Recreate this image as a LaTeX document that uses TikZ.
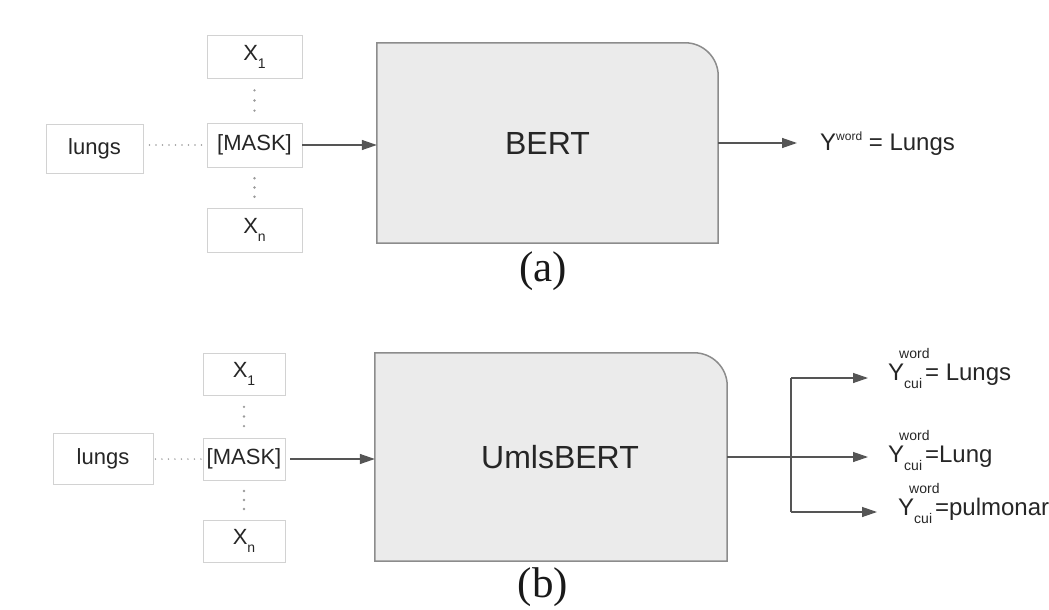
\documentclass[tikz,border=0pt]{standalone}
\usepackage{fontspec}
\setmainfont{Liberation Sans}
\newfontfamily\capfont{Liberation Serif}
\usetikzlibrary{arrows.meta,calc,backgrounds}
\definecolor{boxline}{HTML}{D2D2D2}
\definecolor{arrowc}{HTML}{555555}
\definecolor{bigline}{HTML}{8C8C8C}
\definecolor{bigfill}{HTML}{EBEBEB}
\definecolor{dotc}{HTML}{9A9A9A}
\newcommand\xsub[1]{X\raisebox{-8pt}{\fontsize{14}{14}\selectfont #1}}
\newcommand\ycw{Y\rlap{\hspace{-5pt}\raisebox{22pt}{\fontsize{14}{14}\selectfont word}}\raisebox{-8pt}{\fontsize{14}{14}\selectfont cui}}
\begin{document}
\begin{tikzpicture}[x=1pt,y=-1pt,
  tok/.style={draw=boxline, line width=0.9pt, fill=white, inner sep=0pt, font=\fontsize{22}{26}\selectfont, text=black!85},
  model/.style={inner sep=0pt, font=\fontsize{32}{38}\selectfont, text=black!85},
  bigbox/.style={draw=bigline, fill=bigfill, line width=1.5pt},
  arr/.style={draw=arrowc, line width=1.3pt, -{Triangle[length=15pt,width=10pt]}},
  plain/.style={draw=arrowc, line width=1.3pt},
  dotline/.style={draw=dotc, line width=1.6pt, line cap=round, dash pattern=on 0pt off 6.5pt},
  outlbl/.style={anchor=base west, inner sep=0pt, font=\fontsize{24}{28}\selectfont, text=black!85},
  caplbl/.style={font=\capfont\fontsize{43}{48}\selectfont, inner sep=0pt, text=black!90}
]
\path[use as bounding box] (0,0) rectangle (1049,610);
% ---------- panel (a) ----------
\node[tok, minimum width=95pt, minimum height=43pt] (x1a) at (254.5,56.5) {\xsub{1}};
\node[tok, minimum width=95pt, minimum height=44pt] (maska) at (254.5,145) {[MASK]};
\node[tok, minimum width=95pt, minimum height=44pt] (xna) at (254.5,230) {\xsub{n}};
\node[tok, minimum width=97pt, minimum height=49pt] (lungsa) at (94.5,148.5) {lungs};
\node[model, minimum width=341pt, minimum height=200pt] (bert) at (547.5,143) {BERT};
\begin{scope}[on background layer]
\draw[bigbox] (bert.south west) -- (bert.north west) -- ([xshift=-33pt]bert.north east)
  .. controls ([xshift=-14.8pt]bert.north east) and ([yshift=-14.8pt]bert.north east) .. ([yshift=-33pt]bert.north east)
  -- (bert.south east) -- cycle;
\end{scope}
\draw[dotline, shorten <=6pt] (lungsa.east |- maska.west) -- (maska.west);
\foreach \f in {0.27,0.5,0.73}{
  \fill[dotc] ($(x1a.south)!\f!(maska.north)$) circle (1.3pt);
  \fill[dotc] ($(maska.south)!\f!(xna.north)$) circle (1.3pt);
}
\draw[arr] (maska.east) -- (maska.east -| bert.west);
\coordinate (outa) at (797,143);
\draw[arr] (bert.east) -- (outa);
\node[outlbl] (ya) at (820,150) {Y\raisebox{10pt}{\fontsize{12}{12}\selectfont word} = Lungs};
\node[caplbl] (capa) at (543,271) {(a)};
% ---------- panel (b) ----------
\node[tok, minimum width=82pt, minimum height=42pt] (x1b) at (244,374) {\xsub{1}};
\node[tok, minimum width=82pt, minimum height=42pt] (maskb) at (244,459) {[MASK]};
\node[tok, minimum width=82pt, minimum height=42pt] (xnb) at (244,541) {\xsub{n}};
\node[tok, minimum width=100pt, minimum height=51pt] (lungsb) at (103,458.5) {lungs};
\node[model, minimum width=352pt, minimum height=208pt] (ub) at (551,457) {\hspace*{18pt}UmlsBERT};
\begin{scope}[on background layer]
\draw[bigbox] (ub.south west) -- (ub.north west) -- ([xshift=-33pt]ub.north east)
  .. controls ([xshift=-14.8pt]ub.north east) and ([yshift=-14.8pt]ub.north east) .. ([yshift=-33pt]ub.north east)
  -- (ub.south east) -- cycle;
\end{scope}
\draw[dotline, shorten <=2pt] (lungsb.east |- maskb.west) -- (maskb.west);
\foreach \f in {0.27,0.5,0.73}{
  \fill[dotc] ($(x1b.south)!\f!(maskb.north)$) circle (1.3pt);
  \fill[dotc] ($(maskb.south)!\f!(xnb.north)$) circle (1.3pt);
}
\draw[arr, shorten <=5pt] (maskb.east) -- (maskb.east -| ub.west);
\coordinate (br) at (791,457);
\coordinate (t1) at (791,378);
\coordinate (t3) at (791,512);
\coordinate (e1) at (868,378);
\coordinate (e2) at (868,457);
\coordinate (e3) at (877,512);
\draw[plain] (ub.east |- br) -- (br);
\draw[plain] (t1) -- (t3);
\draw[arr] (t1) -- (e1);
\draw[arr] (br) -- (e2);
\draw[arr] (t3) -- (e3);
\node[outlbl] (y1) at (888,380) {\ycw\hspace{3pt}= Lungs};
\node[outlbl] (y2) at (888,462) {\ycw\hspace{3pt}=Lung};
\node[outlbl] (y3) at (898,515) {\ycw\hspace{3pt}=pulmonar};
\node[caplbl] (capb) at (543,587) {(b)};
\end{tikzpicture}
\end{document}
